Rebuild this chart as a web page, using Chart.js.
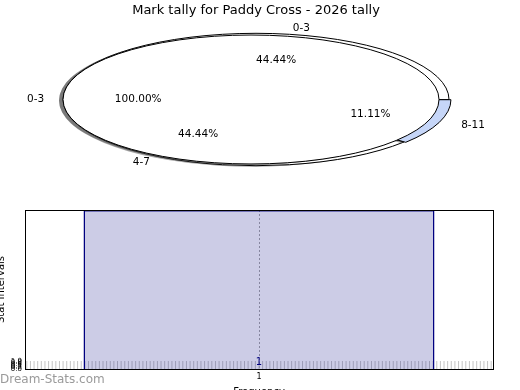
<!DOCTYPE html>
<html>
<head>
<meta charset="utf-8">
<script src="https://cdn.jsdelivr.net/npm/chart.js@4.4.1/dist/chart.umd.min.js"></script>
<style>
  html, body { margin: 0; padding: 0; background: #fff; }
  body { width: 520px; height: 390px; overflow: hidden; position: relative; font-family: 'DejaVu Sans', sans-serif; }
  canvas { position: absolute; }
  #pieOuter, #pieInner { left: 0; top: 0; }
  #bars { left: -8px; top: 195px; }
  #mark { position: absolute; left: 0; top: 372px; font-size: 12px; line-height: 14px; color: #9a9a9a; }
</style>
</head>
<body>
<canvas id="pieOuter" width="520" height="200"></canvas>
<canvas id="pieInner" width="520" height="200"></canvas>
<canvas id="bars" width="528" height="207"></canvas>
<div id="mark">Dream-Stats.com</div>
<script>
// ---------- Data ----------
const chartTitle = 'Mark tally for Paddy Cross - 2026 tally';
const pieLabels = ['0-3', '4-7', '8-11'];
const pieCounts = [4, 4, 1];
const innerLabels = ['0-3'];
const innerCounts = [1];
const barLabels = ['1'];
const barValues = [1];
const yTickValues = [0, 0.2, 0.4, 0.6, 0.8, 1.0];
const MINOR_TICKS = 128; // minor tick intervals along the frequency axis

Chart.defaults.font.family = 'DejaVu Sans';
Chart.defaults.color = '#000';

// the pies are drawn as squashed ellipses (matplotlib-like 3d look)
const SQUASH = 0.343;

const ellipsePie = {
  id: 'ellipsePie',
  beforeDatasetsDraw(chart) {
    const ctx = chart.ctx;
    const arc = chart.getDatasetMeta(0).data[0];
    const base = ctx.getTransform();
    ctx.save();
    ctx.translate(arc.x, arc.y);
    ctx.scale(1, -SQUASH);
    ctx.translate(-arc.x, -arc.y);
    ctx.shadowColor = 'rgba(77,77,77,0.5)';
    ctx.shadowOffsetX = -4;
    ctx.shadowOffsetY = 1;
    // borders: 1px all round the ellipse, and no shadow
    ctx.stroke = function () {
      this.save();
      this.setTransform(base);
      this.shadowColor = 'rgba(0,0,0,0)';
      CanvasRenderingContext2D.prototype.stroke.call(this);
      this.restore();
    };
  },
  afterDatasetsDraw(chart) {
    delete chart.ctx.stroke;
    chart.ctx.restore();
  }
};

function drawPieLabels(ctx, chart) {
  const meta = chart.getDatasetMeta(0);
  const counts = chart.data.datasets[0].data;
  const total = counts.reduce((a, b) => a + b, 0);
  meta.data.forEach((arc, i) => {
    const mid = (arc.startAngle + arc.endAngle) / 2;
    const off = arc.options.offset || 0;
    const spot = f => {
      const r = off + f * arc.outerRadius;
      return [arc.x + Math.cos(mid) * r, arc.y - SQUASH * Math.sin(mid) * r];
    };
    const [lx, ly] = spot(1.1);
    ctx.textAlign = Math.cos(mid) >= 0 ? 'left' : 'right';
    ctx.fillText(chart.data.labels[i], lx, ly);
    const [px, py] = spot(0.6);
    ctx.textAlign = 'center';
    ctx.fillText((counts[i] / total * 100).toFixed(2) + '%', px, py);
  });
}

const pieOptions = (radius, padRight, padBottom) => ({
  responsive: false,
  animation: false,
  events: [],
  radius: radius,
  rotation: 90,
  layout: { padding: { left: 0, right: padRight, top: 0, bottom: padBottom } },
  plugins: { legend: { display: false }, tooltip: { enabled: false } }
});

const outerOpts = pieOptions(193, 8, 19.6);
outerOpts.plugins.title = {
  display: true, text: chartTitle, color: '#000',
  font: { size: 13, weight: 'normal' }, padding: { top: 3, bottom: 0 }
};

const outerPie = new Chart(document.getElementById('pieOuter'), {
  type: 'pie',
  data: {
    labels: pieLabels,
    datasets: [{
      data: pieCounts,
      backgroundColor: ['#ffffff', '#ffffff', '#c6d6f8'],
      borderColor: '#000',
      borderWidth: 1,
      offset: [0, 0, 6]
    }]
  },
  options: outerOpts,
  plugins: [ellipsePie]
});

const innerPie = new Chart(document.getElementById('pieInner'), {
  type: 'pie',
  data: {
    labels: innerLabels,
    datasets: [{ data: innerCounts, backgroundColor: '#ffffff', borderWidth: 0 }]
  },
  options: pieOptions(188, 18, 1),
  plugins: [ellipsePie, {
    id: 'pieText',
    afterDatasetsDraw(chart) {
      // a single full slice: outline only, no radial edge
      const ctx = chart.ctx;
      const arc = chart.getDatasetMeta(0).data[0];
      ctx.save();
      ctx.strokeStyle = '#000';
      ctx.lineWidth = 1;
      ctx.beginPath();
      ctx.ellipse(arc.x, arc.y, arc.outerRadius, arc.outerRadius * SQUASH, 0, 0, Math.PI * 2);
      ctx.stroke();
      ctx.restore();
    },
    afterDraw(chart) {
      const ctx = chart.ctx;
      ctx.save();
      ctx.font = '10.5px "DejaVu Sans"';
      ctx.fillStyle = '#000';
      ctx.textBaseline = 'middle';
      drawPieLabels(ctx, outerPie);
      drawPieLabels(ctx, chart);
      ctx.restore();
    }
  }]
});

// ---------- Frequency bars ----------
const barExtras = {
  id: 'barExtras',
  beforeDatasetsDraw(chart) {
    // minor tick marks along the bottom
    const s = chart.scales.xm, a = chart.chartArea, ctx = chart.ctx;
    ctx.save();
    ctx.strokeStyle = '#c4c4c4';
    ctx.lineWidth = 1;
    ctx.beginPath();
    s.ticks.forEach(t => {
      const x = s.getPixelForValue(t.value);
      ctx.moveTo(x, a.bottom - 8);
      ctx.lineTo(x, a.bottom);
    });
    ctx.stroke();
    ctx.restore();
  },
  afterDatasetsDraw(chart) {
    const ctx = chart.ctx;
    const meta = chart.getDatasetMeta(0);
    ctx.save();
    ctx.font = '10px "DejaVu Sans"';
    ctx.fillStyle = '#000080';
    ctx.textAlign = 'center';
    ctx.textBaseline = 'middle';
    meta.data.forEach((bar, i) => ctx.fillText(String(barValues[i]), bar.x, bar.base - 7));
    ctx.restore();
  },
  afterDraw(chart) {
    const a = chart.chartArea, ctx = chart.ctx;
    ctx.save();
    ctx.strokeStyle = '#000';
    ctx.lineWidth = 1;
    ctx.strokeRect(Math.round(a.left) + 0.5, Math.round(a.top) + 0.5,
      Math.round(a.right - a.left), Math.round(a.bottom - a.top));
    ctx.restore();
  }
};

new Chart(document.getElementById('bars'), {
  type: 'bar',
  data: {
    labels: barLabels,
    datasets: [{
      data: barValues,
      backgroundColor: 'rgba(0,0,128,0.2)',
      borderColor: '#000080',
      borderWidth: 1.5,
      barPercentage: 0.75,
      categoryPercentage: 1
    }]
  },
  options: {
    responsive: false,
    animation: false,
    events: [],
    layout: { padding: { left: 0, right: 27, top: 15, bottom: 0 } },
    plugins: { legend: { display: false }, tooltip: { enabled: false } },
    scales: {
      x: {
        offset: true,
        grid: { offset: false, color: '#a8a8a8', drawTicks: false },
        border: { color: '#000', dash: [2, 2] },
        ticks: { color: '#000', font: { size: 8 }, padding: 3 },
        title: { display: true, text: 'Frequency', color: '#000', font: { size: 10 }, padding: { top: 0, bottom: 4 } },
        afterFit: s => { s.height = 33; }
      },
      xm: {
        type: 'linear', display: false, min: 0, max: MINOR_TICKS,
        ticks: { autoSkip: false },
        afterBuildTicks: s => { s.ticks = Array.from({ length: MINOR_TICKS + 1 }, (_, i) => ({ value: i })); }
      },
      y: { display: false, min: 0, max: 1 },
      yt: {
        type: 'linear', position: 'left', min: 0, max: 20,
        afterBuildTicks: s => { s.ticks = yTickValues.map(v => ({ value: v })); },
        ticks: { color: '#000', font: { size: 7 }, padding: 3, autoSkip: false, callback: v => Number(v).toFixed(1) },
        grid: { display: false, drawTicks: false },
        border: { color: '#000' },
        title: { display: true, text: 'Stat Intervals', color: '#000', font: { size: 10 }, padding: { top: 3, bottom: 0 } },
        afterFit: s => { s.width = 33; }
      }
    }
  },
  plugins: [barExtras]
});
</script>
</body>
</html>
